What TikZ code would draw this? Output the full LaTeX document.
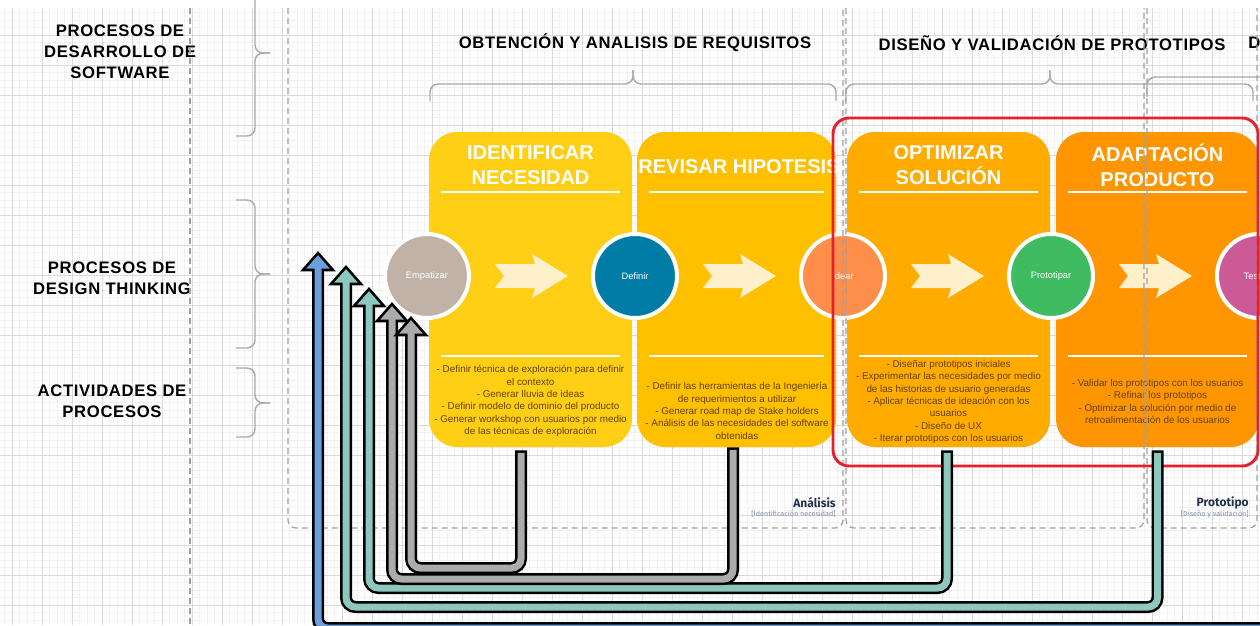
\documentclass[tikz,border=0pt]{standalone}
\usepackage{fontspec}
\setmainfont{Liberation Sans}
\newfontfamily\headfont{Liberation Sans}[LetterSpace=4]
\newfontfamily\grpfont{Fira Sans}
\usetikzlibrary{calc}
\definecolor{cardA}{HTML}{FFCF16}
\definecolor{cardB}{HTML}{FFC000}
\definecolor{cardC}{HTML}{FFAB00}
\definecolor{cardD}{HTML}{FF9500}
\definecolor{cEmp}{HTML}{C0B2A6}
\definecolor{cDef}{HTML}{007CA6}
\definecolor{cIde}{HTML}{FF8E4A}
\definecolor{cPro}{HTML}{3FBB62}
\definecolor{cTes}{HTML}{CC5A96}
\definecolor{chev}{HTML}{FFF0CC}
\definecolor{bullettxt}{HTML}{654200}
\definecolor{bandGrey}{HTML}{ABABAB}
\definecolor{bandTeal}{HTML}{8CC8BE}
\definecolor{bandBlue}{HTML}{6A9FDB}
\definecolor{redbox}{HTML}{E8202E}
\definecolor{bracec}{HTML}{AAAAAA}
\definecolor{dashc}{HTML}{A0A0A0}
\definecolor{gridmin}{HTML}{F1F1F1}
\definecolor{gridmaj}{HTML}{DADADA}
\definecolor{navy}{HTML}{24344F}
\definecolor{subl}{HTML}{7D8BA6}
\newcommand{\connector}[4]{%
  \draw[bandout] (#2) -- (#2 |- #3) -- (#4 |- #3) -- ($(#4)+(0,16)$);
  \filldraw[headtip=#1] (#4) -- ++(15,17) -- ++(-30,0) -- cycle;
  \draw[bandin=#1] ($(#2)+(0,2.5)$) -- (#2 |- #3) -- (#4 |- #3) -- ($(#4)+(0,14)$);
}
\begin{document}
\begin{tikzpicture}[x=0.75pt,y=-0.75pt,
  cardbox/.style={fill=#1, draw=none, rounded corners=21pt, inner sep=0pt, minimum height=236.25pt},
  phase/.style={circle, fill=#1, draw=white, line width=3pt, minimum size=63pt, inner sep=0pt, text=white, font=\fontsize{7}{8}\selectfont},
  ctitle/.style={text=white, font=\fontsize{15}{18.75}\selectfont\bfseries, align=center, inner sep=0pt},
  cbody/.style={text=bullettxt, font=\fontsize{7.4}{9.3}\selectfont, align=center, inner sep=0pt},
  sidelabel/.style={font=\headfont\fontsize{12.5}{15.75}\selectfont\bfseries, align=center, inner sep=0pt},
  heading/.style={font=\headfont\fontsize{12.5}{15}\selectfont\bfseries, inner sep=0pt},
  bracestyle/.style={draw=bracec, line width=1.1pt, rounded corners=6pt},
  grpbox/.style={draw=dashc, line width=0.9pt, dash pattern=on 4.5pt off 3pt, rounded corners=6pt},
  sepline/.style={draw=white, line width=1.5pt},
  bandout/.style={draw=black, line width=9pt, rounded corners=7pt},
  bandin/.style={draw=#1, line width=5.25pt, rounded corners=7pt},
  headtip/.style={fill=#1, draw=black, line width=1.9pt, line join=miter},
  grplab/.style={font=\grpfont\bfseries\fontsize{9}{10}\selectfont, text=navy, anchor=east, inner sep=0pt},
  grpsub/.style={font=\grpfont\fontsize{5.4}{6}\selectfont, text=subl, anchor=east, inner sep=0pt},
  chevron/.pic={\fill[chev] (-36,-12) -- (4,-12) -- (1,-22) -- (37,0) -- (1,22) -- (4,12) -- (-36,12) -- (-27,0) -- cycle;}
]
\useasboundingbox (0,0) rectangle (1260,625);
\clip (0,0) rectangle (1260,625);
\fill[white] (0,0) rectangle (1260,625);
% grid
\begin{scope}
\clip (0,8) rectangle (1260,625);
\foreach \i in {0,...,168} \draw[gridmin, line width=0.4pt] ({4.5+7.5*\i},8) -- ({4.5+7.5*\i},625);
\foreach \i in {0,...,83} \draw[gridmin, line width=0.4pt] (0,{5+7.5*\i}) -- (1260,{5+7.5*\i});
\foreach \i in {0,...,42} \draw[gridmaj, line width=0.5pt] ({12+30*\i},8) -- ({12+30*\i},625);
\foreach \i in {0,...,21} \draw[gridmaj, line width=0.5pt] (0,{5+30*\i}) -- (1260,{5+30*\i});
\end{scope}
% side labels and braces
\node[sidelabel] (lsw) at (120,52) {PROCESOS DE\\DESARROLLO DE\\SOFTWARE};
\node[sidelabel] (ldt) at (112,278) {PROCESOS DE\\DESIGN THINKING};
\node[sidelabel] (lact) at (112,401.5) {ACTIVIDADES DE\\PROCESOS};
\draw[bracestyle] (236,136) -- (255,136) -- (255,53) -- (270,53);
\draw[bracestyle] (270,53) -- (255,53) -- (255,-30);
\draw[bracestyle] (236,200) -- (255,200) -- (255,274) -- (270,274);
\draw[bracestyle] (270,274) -- (255,274) -- (255,348) -- (236,348);
\draw[bracestyle] (236,368) -- (255,368) -- (255,403) -- (270,403);
\draw[bracestyle] (270,403) -- (255,403) -- (255,437) -- (236,437);
% headings and top braces
\node[heading] (h1) at (635,43) {OBTENCIÓN Y ANALISIS DE REQUISITOS};
\node[heading] (h2) at (1052,43) {DISEÑO Y VALIDACIÓN DE PROTOTIPOS};
\node[heading, anchor=west] (h3) at (1248,43) {D};
\draw[bracestyle] (430,101) -- (430,84) -- (633,84) -- (633,70);
\draw[bracestyle] (633,70) -- (633,84) -- (836,84) -- (836,101);
\draw[bracestyle] (846,101) -- (846,84) -- (1050,84) -- (1050,70);
\draw[bracestyle] (1050,70) -- (1050,84) -- (1253,84) -- (1253,101);
\draw[bracestyle] (1147,97) -- (1147,77) -- (1300,77);
% cards
\node[cardbox=cardA, minimum width=152.25pt] (cardA) at (530.5,289.5) {};
\node[cardbox=cardB, minimum width=149.25pt] (cardB) at (736.5,289.5) {};
\node[cardbox=cardC, minimum width=152.25pt] (cardC) at (948.5,289.5) {};
\node[cardbox=cardD, minimum width=152.25pt] (cardD) at (1157.5,289.5) {};
\foreach \c in {cardA,cardB,cardC,cardD}{
  \draw[sepline] ($(\c.north west)+(12,60)$) -- ($(\c.north east)+(-12,60)$);
  \draw[sepline] ($(\c.north west)+(12,224)$) -- ($(\c.north east)+(-12,224)$);
}
\node[ctitle] (tA) at (530.5,165.5) {IDENTIFICAR\\NECESIDAD};
\node[ctitle] (tB) at (739,167) {REVISAR HIPOTESIS};
\node[ctitle] (tC) at (948.5,165.5) {OPTIMIZAR\\SOLUCIÓN};
\node[ctitle] (tD) at (1157.5,165.5) {ADAPTACIÓN\\PRODUCTO};
\node[cbody] (bA) at (530.5,401) {- Definir técnica de exploración para definir\\el contexto\\- Generar lluvia de ideas\\- Definir modelo de dominio del producto\\- Generar workshop con usuarios por medio\\de las técnicas de exploración};
\node[cbody] (bB) at (737,411) {- Definir las herramientas de la Ingeniería\\de requerimientos a utilizar\\- Generar road map de Stake holders\\- Análisis de las necesidades del software\\obtenidas};
\node[cbody] (bC) at (948.5,402) {- Diseñar prototipos iniciales\\- Experimentar las necesidades por medio\\de las historias de usuario generadas\\- Aplicar técnicas de ideación con los\\usuarios\\- Diseño de UX\\- Iterar prototipos con los usuarios};
\node[cbody] (bD) at (1157.5,401.5) {- Validar los prototipos con los usuarios\\- Refinar los prototipos\\- Optimizar la solución por medio de\\retroalimentación de los usuarios};
% phases
\node[phase=cEmp] (emp) at (427,276) {Empatizar};
\node[phase=cDef] (def) at (635,276) {Definir};
\node[phase=cIde] (ide) at (843,276) {Idear};
\node[phase=cPro] (pro) at (1051,276) {Prototipar};
\node[phase=cTes] (tes) at (1259,276) {Testear};
\path ($(emp.east)!0.5!(def.west)$) pic{chevron};
\path ($(def.east)!0.5!(ide.west)$) pic{chevron};
\path ($(ide.east)!0.5!(pro.west)$) pic{chevron};
\path ($(pro.east)!0.5!(tes.west)$) pic{chevron};
% group boxes
\draw[grpbox] (288,8) -- (288,528) -- (843,528) -- (843,8);
\draw[grpbox] (846,8) -- (846,528) -- (1144,528) -- (1144,8);
\draw[grpbox] (1147,8) -- (1147,528) -- (1257,528) -- (1257,8);
\draw[grpbox, rounded corners=0pt] (190,8) -- (190,625);
\node[grplab] (gA) at (836,503) {Análisis};
\node[grpsub] (gAs) at (836,514) {[Identificación necesidad]};
\node[grplab] (gP) at (1249,503) {Prototipo};
\node[grpsub] (gPs) at (1249,514) {[Diseño y validación]};
% red highlight
\draw[redbox, line width=2.2pt, rounded corners=12pt] (833,118) rectangle (1258,466);
% connectors
\coordinate (tipB) at (318,253);
\coordinate (tipT1) at (346,267);
\coordinate (tipT2) at (369,289);
\coordinate (tipG1) at (392,304);
\coordinate (tipG2) at (411,318);
\coordinate (offR) at (1280,628);
\coordinate (sA) at ($(cardA.south)+(-9.5,3)$);
\coordinate (sB) at ($(cardB.south)+(-3.5,0)$);
\coordinate (sC) at ($(cardC.south)+(-1.5,3)$);
\coordinate (sD) at ($(cardD.south)+(0,3)$);
\coordinate (lvG2) at (0,568);
\coordinate (lvG1) at (0,579);
\coordinate (lvT2) at (0,588);
\coordinate (lvT1) at (0,607);
% blue
\draw[bandout] (offR) -- (tipB |- offR) -- ($(tipB)+(0,16)$);
\filldraw[headtip=bandBlue] (tipB) -- ++(15,17) -- ++(-30,0) -- cycle;
\draw[bandin=bandBlue] (offR) -- (tipB |- offR) -- ($(tipB)+(0,14)$);
\connector{bandTeal}{sD}{lvT1}{tipT1}
\connector{bandTeal}{sC}{lvT2}{tipT2}
\connector{bandGrey}{sB}{lvG1}{tipG1}
\connector{bandGrey}{sA}{lvG2}{tipG2}
\end{tikzpicture}
\end{document}
